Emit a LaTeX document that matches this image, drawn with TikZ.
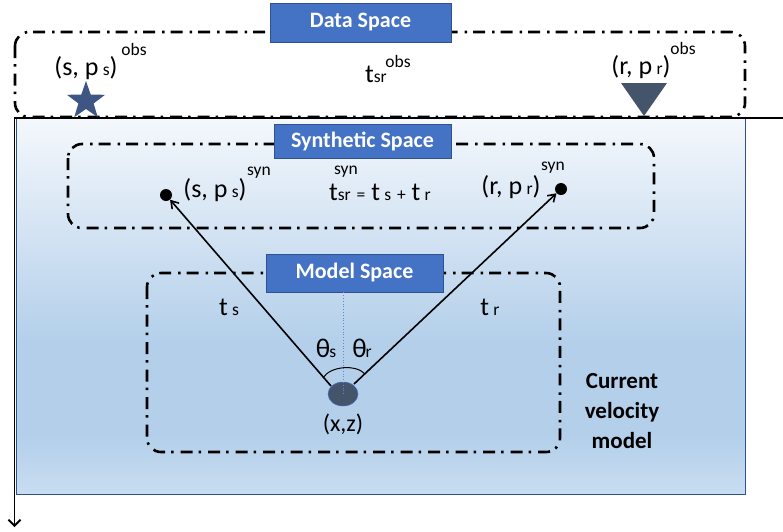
\documentclass[tikz,border=0pt]{standalone}
\usepackage{fontspec}
\setmainfont{Carlito}
\usetikzlibrary{arrows.meta,shapes.geometric}
\definecolor{lblue}{HTML}{4472C4}
\definecolor{lbluedark}{HTML}{2F528F}
\definecolor{slate}{HTML}{44546A}
\definecolor{starcol}{HTML}{3E5683}
\definecolor{bgtop}{HTML}{F4F8FC}
\definecolor{bgmid}{HTML}{B3CFEA}
\definecolor{bgbot}{HTML}{C8DDF1}
\definecolor{dotblue}{HTML}{5B8BD6}
\pgfdeclareverticalshading{bgshade}{100bp}{color(0bp)=(bgbot); color(25bp)=(bgbot); color(33bp)=(bgmid); color(45bp)=(bgmid); color(75bp)=(bgtop); color(100bp)=(bgtop)}
\newcommand{\bigtxt}{\fontsize{26}{28}\selectfont}
\newcommand{\smltxt}{\fontsize{17.5}{19}\selectfont}
\tikzset{
  spacebox/.style={draw=black, line width=2.6pt, dash pattern=on 12pt off 6pt on 2.5pt off 7pt, rounded corners=14pt},
  labelbox/.style={draw=lbluedark, line width=0.6pt, fill=lblue, text=white, font=\fontsize{22}{24}\selectfont\bfseries, inner sep=0pt},
  txt/.style={inner sep=0pt},
  ray/.style={line width=1.6pt, -{Straight Barb[length=7pt,width=9pt,line width=1.6pt]}},
}
\begin{document}
\begin{tikzpicture}[x=1pt,y=-1pt]
\useasboundingbox (0,0) rectangle (783,531);
% background velocity model
\draw[draw=lbluedark, line width=0.8pt, shading=bgshade] (16,118) rectangle (745,494);
% axes
\coordinate (axr) at (783,118);
\coordinate (orig) at (14.5,118);
\coordinate (axb) at (14.5,527);
\draw[line width=1.8pt, -{Straight Barb[length=6pt,width=12pt,line width=1.8pt]}] (axr) -- (orig) -- (axb);
% space boxes
\draw[spacebox] (15,32) rectangle (745,117);
\draw[spacebox] (68,144) rectangle (654,228);
\draw[spacebox] (147,273) rectangle (560,452);
% labels
\node[labelbox, minimum width=181pt, minimum height=39pt] (ds) at (360.5,22.5) {Data Space};
\node[labelbox, minimum width=177pt, minimum height=34pt] (ss) at (362.5,141) {Synthetic Space};
\node[labelbox, minimum width=177pt, minimum height=38pt] (ms) at (354.5,273) {Model Space};
% data space
\node[star, star points=5, star point ratio=2.5, minimum size=40pt, fill=starcol, inner sep=0pt] (src) at (86,101) {};
\fill[slate] (621,83) -- (667,83) -- (644,116) -- cycle;
\node[txt] (sobs) at (86,68) {\bigtxt (s, p\,{\smltxt s})};
\node[txt] (sobsup) at (134,49) {\smltxt obs};
\node[txt] (tobs) at (376,74) {\bigtxt t{\smltxt sr}};
\node[txt] (tobsup) at (398,61) {\smltxt obs};
\node[txt] (robs) at (641,67) {\bigtxt (r, p\,{\smltxt r})};
\node[txt] (robsup) at (683,48) {\smltxt obs};
% synthetic space
\node[circle, fill=black, minimum size=12pt, inner sep=0pt] (sdot) at (166,195) {};
\node[circle, fill=black, minimum size=12pt, inner sep=0pt] (rdot) at (561,189) {};
\node[txt] (ssyn) at (215,190) {\bigtxt (s, p\,{\smltxt s})};
\node[txt] (ssynup) at (259,173) {\smltxt syn};
\node[txt] (tsyn) at (380,192) {\bigtxt t{\smltxt sr} {\smltxt =} t\,{\smltxt s} {\smltxt +} t\,{\smltxt r}};
\node[txt] (tsynup) at (346,172) {\smltxt syn};
\node[txt] (rsyn) at (511,187) {\bigtxt (r, p\,{\smltxt r})};
\node[txt] (rsynup) at (553,168) {\smltxt syn};
% model space
\node[ellipse, fill=slate, draw=lblue, line width=0.5pt, minimum width=30pt, minimum height=24pt, inner sep=0pt] (pt) at (343,394) {};
\draw[dotblue, line width=0.8pt, dotted] (ms.south -| pt) -- (pt.center);
\coordinate (lfoot) at (331,386);
\coordinate (rfoot) at (354,384);
\draw[ray] (lfoot) -- (sdot);
\draw[ray] (rfoot) -- (rdot);
\draw[line width=1pt] (323,378) .. controls (330,366) and (356,364) .. (365,374);
\node[txt] (ths) at (326,348) {\fontsize{27}{28}\selectfont θ\kern-1pt{\smltxt s}};
\node[txt] (thr) at (362,348) {\fontsize{27}{28}\selectfont θ\kern-1pt{\smltxt r}};
\node[txt] (ts) at (229,307) {\bigtxt t\,{\smltxt s}};
\node[txt] (tr) at (490,307) {\bigtxt t\,{\smltxt r}};
\node[txt] (xz) at (343,424) {\fontsize{24}{26}\selectfont (x,z)};
\node[txt, align=center, font=\fontsize{23}{30}\selectfont\bfseries] (cvm) at (622,411) {Current\\velocity\\model};
\end{tikzpicture}
\end{document}
